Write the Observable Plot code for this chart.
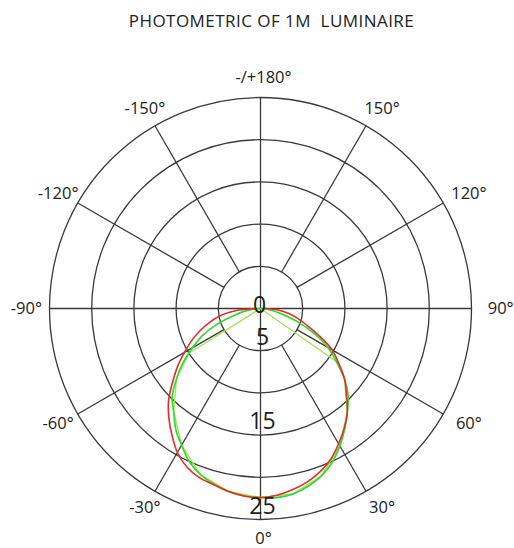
<!DOCTYPE html>
<html>
<head>
<meta charset="utf-8">
<script src="https://cdn.jsdelivr.net/npm/d3@7"></script>
<script src="https://cdn.jsdelivr.net/npm/@observablehq/plot@0.6"></script>
<style>
  html, body { margin: 0; padding: 0; background: #fff; }
</style>
</head>
<body>
<div id="chart"></div>
<script>
// ---- data ----
const title = "PHOTOMETRIC OF 1M  LUMINAIRE";

// rings (radial scale values) and their labels
const rings = [5, 10, 15, 20, 25];
const radialTicks = [0, 5, 15, 25];

// spokes every 30 degrees (0 = down, positive toward the right)
const spokeAngles = [0, 30, 60, 90, 120, 150, 180, 210, 240, 270, 300, 330];

// angle labels
const labelAngles = [0, 30, 60, 90, 120, 150, 180, -150, -120, -90, -60, -30];
const labelTexts  = ["0°", "30°", "60°", "90°", "120°", "150°", "-/+180°", "-150°", "-120°", "-90°", "-60°", "-30°"];

// measured curves (angle in degrees, intensity)
const curveAngles = [-90, -85, -80, -75, -70, -65, -60, -55, -50, -45, -40, -35, -30, -25, -20, -15, -10, -5,
                     0, 5, 10, 15, 20, 25, 30, 35, 40, 45, 50, 55, 60, 65, 70, 75, 80, 85, 90];
const redValues   = [0.5, 3.0, 4.8, 6.2, 7.6, 9.0, 10.4, 12.0, 13.6, 15.4, 16.9, 18.3, 19.7, 20.7, 21.3, 21.6, 22.0, 22.3,
                     22.4, 22.2, 21.8, 21.3, 20.6, 19.7, 18.5, 17.3, 16.0, 14.4, 13.0, 11.3, 9.8, 7.7, 5.9, 4.6, 3.4, 2.1, 0.5];
const greenValues = [0, 0.9, 2.0, 3.4, 5.5, 7.6, 9.3, 11.2, 13.0, 14.8, 16.0, 17.5, 18.7, 20.0, 20.9, 21.5, 22.0, 22.3,
                     22.4, 22.5, 22.3, 21.8, 21.1, 20.1, 18.8, 17.4, 16.0, 14.7, 13.0, 11.0, 9.2, 7.0, 4.8, 2.8, 1.5, 0.7, 0];

// third (sparser) series visible as straight segments near the top
const lightAngles = [-90, -58, -50, -40, -30, -20, -10, 0, 10, 20, 30, 40, 50, 55, 90];
const lightValues = [0, 10.0, 13.0, 16.0, 18.7, 20.9, 22.0, 22.4, 22.3, 21.1, 18.8, 16.0, 13.0, 11.1, 0];

// ---- helpers ----
const rad = a => a * Math.PI / 180;
const px = (a, r) => r * Math.sin(rad(a));
const py = (a, r) => -r * Math.cos(rad(a));

const redData   = curveAngles.map((a, i) => ({a, r: redValues[i]}));
const greenData = curveAngles.map((a, i) => ({a, r: greenValues[i]}));
const lightData = lightAngles.map((a, i) => ({a, r: lightValues[i]}));
const spokes = spokeAngles.map(a => ({a, r0: a % 90 === 0 ? 0 : 5, r1: 25}));
const labels = labelAngles.map((a, i) => ({a, text: labelTexts[i]}));

const gridColor = "#3a3a3a";
const font = "'Open Sans', sans-serif";

const chart = Plot.plot({
  width: 514,
  height: 548,
  marginLeft: 49,
  marginRight: 43,
  marginTop: 97,
  marginBottom: 29,
  x: {domain: [-25, 25], axis: null},
  y: {domain: [-25, 25], axis: null},
  r: {type: "linear", domain: [0, 25], range: [0, 211]},
  style: {fontFamily: font, background: "#fff", color: "#222", overflow: "visible"},
  marks: [
    // rings
    Plot.dot(rings, {x: () => 0, y: () => 0, r: d => d, stroke: gridColor, strokeWidth: 1.3, fill: "none"}),
    // spokes
    Plot.link(spokes, {
      x1: d => px(d.a, d.r0), y1: d => py(d.a, d.r0),
      x2: d => px(d.a, d.r1), y2: d => py(d.a, d.r1),
      stroke: gridColor, strokeWidth: 1.3
    }),
    // curves
    Plot.line(lightData, {x: d => px(d.a, d.r), y: d => py(d.a, d.r), stroke: "#a8e05c", strokeWidth: 1.4}),
    Plot.line(greenData, {x: d => px(d.a, d.r), y: d => py(d.a, d.r), stroke: "#2fdc2f", strokeWidth: 1.7, curve: "catmull-rom"}),
    Plot.line(redData, {x: d => px(d.a, d.r), y: d => py(d.a, d.r), stroke: "#ec2a2a", strokeWidth: 1.6, curve: "catmull-rom"}),
    // radial value labels
    Plot.text(radialTicks.filter(v => v > 0), {
      x: () => 0, y: v => -v, text: v => String(v),
      fontSize: 23, fill: "#1e1e1e", dy: -13, dx: 2
    }),
    Plot.text(radialTicks.filter(v => v === 0), {
      x: () => 0, y: v => -v, text: v => String(v),
      fontSize: 23, fill: "#1e1e1e", dy: -2.5, dx: -1
    }),
    // angle labels
    Plot.text(labels, {
      x: d => 28.1 * Math.sin(rad(d.a)),
      y: d => -27.3 * Math.cos(rad(d.a)),
      text: "text", fontSize: 16.5, fill: "#222", dx: 3
    }),
    // title
    Plot.text([title], {
      frameAnchor: "top", lineAnchor: "middle", text: d => d, fontSize: 17, fill: "#222",
      dx: 11, dy: -76, className: "chart-title"
    })
  ]
});

d3.select(chart).selectAll(".chart-title text").attr("letter-spacing", "0.45px");
document.getElementById("chart").appendChild(chart);
</script>
</body>
</html>
